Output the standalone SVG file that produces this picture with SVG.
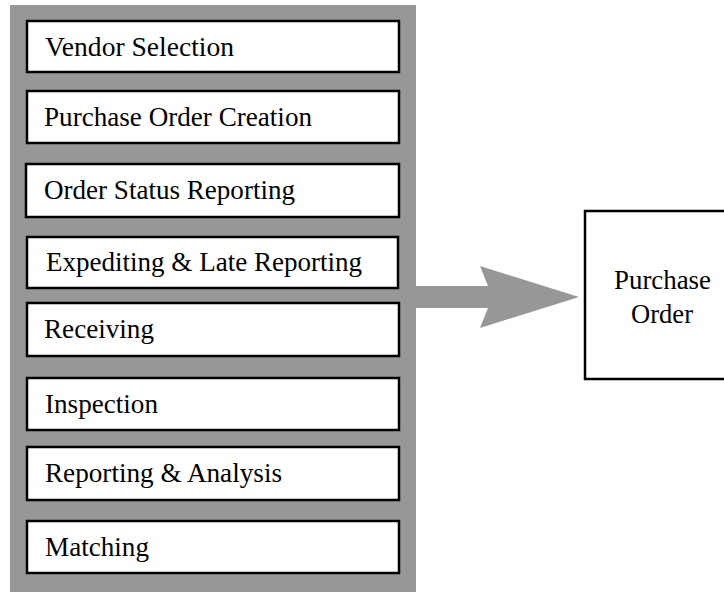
<svg xmlns="http://www.w3.org/2000/svg" width="724" height="592" viewBox="0 0 724 592">
<style>
.panel{fill:#979797;}
.box{fill:#ffffff;stroke:#000000;stroke-width:2.5;}
.lbl{font-family:"Liberation Serif","Times New Roman",serif;font-size:27px;fill:#000000;}
.arrow{fill:#979797;}
</style>
<rect width="724" height="592" fill="#ffffff"/>
<rect class="panel" x="10" y="5" width="406" height="587"/>
<g id="vendor-selection"><rect class="box" x="27" y="21" width="372" height="51"/><text class="lbl" x="45" y="55.5" textLength="189" lengthAdjust="spacingAndGlyphs">Vendor Selection</text></g>
<g id="purchase-order-creation"><rect class="box" x="27" y="91" width="372" height="52"/><text class="lbl" x="44" y="125.5" textLength="268" lengthAdjust="spacingAndGlyphs">Purchase Order Creation</text></g>
<g id="order-status-reporting"><rect class="box" x="26" y="164" width="373" height="53"/><text class="lbl" x="44" y="199" textLength="251" lengthAdjust="spacingAndGlyphs">Order Status Reporting</text></g>
<g id="expediting"><rect class="box" x="27" y="237" width="371" height="51"/><text class="lbl" x="46" y="271" textLength="316" lengthAdjust="spacingAndGlyphs">Expediting &amp; Late Reporting</text></g>
<g id="receiving"><rect class="box" x="27" y="303" width="372" height="53"/><text class="lbl" x="44" y="337.5" textLength="110" lengthAdjust="spacingAndGlyphs">Receiving</text></g>
<g id="inspection"><rect class="box" x="27" y="378" width="372" height="52"/><text class="lbl" x="45" y="412.5" textLength="113" lengthAdjust="spacingAndGlyphs">Inspection</text></g>
<g id="reporting-analysis"><rect class="box" x="27" y="447" width="372" height="53"/><text class="lbl" x="45" y="481.5" textLength="237" lengthAdjust="spacingAndGlyphs">Reporting &amp; Analysis</text></g>
<g id="matching"><rect class="box" x="27" y="521" width="372" height="52"/><text class="lbl" x="45" y="555.5" textLength="104" lengthAdjust="spacingAndGlyphs">Matching</text></g>
<g id="purchase-order"><rect class="box" x="585" y="211" width="160" height="168"/><text class="lbl" x="614" y="289" textLength="97" lengthAdjust="spacingAndGlyphs">Purchase</text><text class="lbl" x="631" y="322.5" textLength="62" lengthAdjust="spacingAndGlyphs">Order</text></g>
<g id="connectors"><polygon class="arrow" points="406,286 488,286 480,266 579,297 480,328 488,308 406,308"/></g>
</svg>
